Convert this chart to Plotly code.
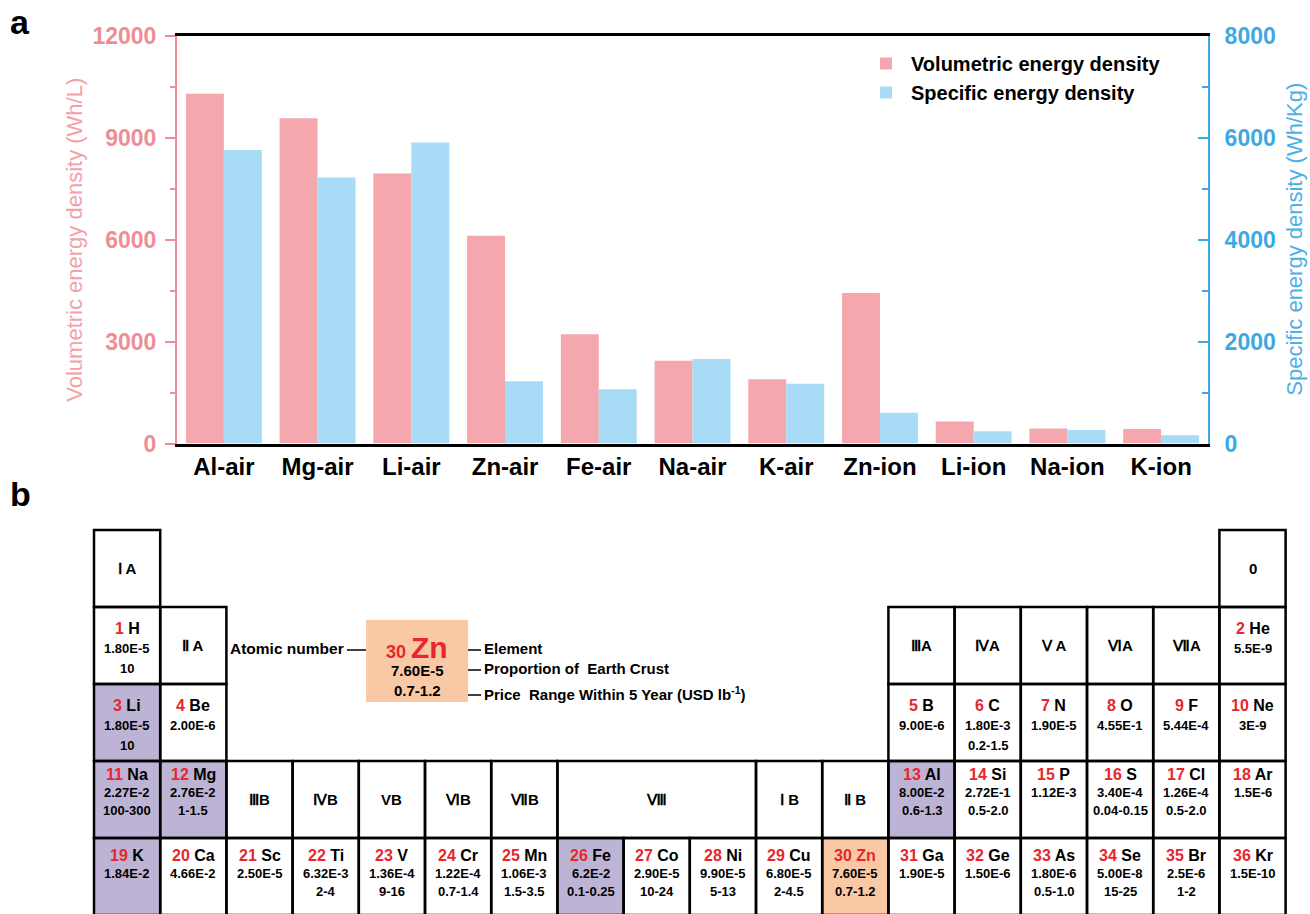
import plotly.graph_objects as go

W, H = 1310, 914

# ---------------- data: panel a ----------------
categories = ["Al-air", "Mg-air", "Li-air", "Zn-air", "Fe-air", "Na-air",
              "K-air", "Zn-ion", "Li-ion", "Na-ion", "K-ion"]
volumetric = [10300, 9580, 7950, 6120, 3220, 2440, 1890, 4430, 650, 440, 430]
specific = [5760, 5220, 5910, 1220, 1065, 1660, 1175, 605, 240, 265, 160]
vol_ticks = [0, 3000, 6000, 9000, 12000]
spec_ticks = [0, 2000, 4000, 6000, 8000]

# ---------------- data: panel b (periodic table) ----------------
el_number = [1, 2, 3, 4, 5, 6, 7, 8, 9, 10,
             11, 12, 13, 14, 15, 16, 17, 18,
             19, 20, 21, 22, 23, 24, 25, 26, 27, 28, 29, 30, 31, 32, 33, 34, 35, 36]
el_symbol = ["H", "He", "Li", "Be", "B", "C", "N", "O", "F", "Ne",
             "Na", "Mg", "Al", "Si", "P", "S", "Cl", "Ar",
             "K", "Ca", "Sc", "Ti", "V", "Cr", "Mn", "Fe", "Co", "Ni", "Cu", "Zn",
             "Ga", "Ge", "As", "Se", "Br", "Kr"]
el_abundance = ["1.80E-5", "5.5E-9", "1.80E-5", "2.00E-6", "9.00E-6", "1.80E-3", "1.90E-5",
                "4.55E-1", "5.44E-4", "3E-9",
                "2.27E-2", "2.76E-2", "8.00E-2", "2.72E-1", "1.12E-3", "3.40E-4", "1.26E-4", "1.5E-6",
                "1.84E-2", "4.66E-2", "2.50E-5", "6.32E-3", "1.36E-4", "1.22E-4", "1.06E-3",
                "6.2E-2", "2.90E-5", "9.90E-5", "6.80E-5", "7.60E-5", "1.90E-5", "1.50E-6",
                "1.80E-6", "5.00E-8", "2.5E-6", "1.5E-10"]
el_price = ["10", "", "10", "", "", "0.2-1.5", "", "", "", "",
            "100-300", "1-1.5", "0.6-1.3", "0.5-2.0", "", "0.04-0.15", "0.5-2.0", "",
            "", "", "", "2-4", "9-16", "0.7-1.4", "1.5-3.5", "0.1-0.25", "10-24", "5-13",
            "2-4.5", "0.7-1.2", "", "", "0.5-1.0", "15-25", "1-2", ""]
el_col = [0, 17, 0, 1, 12, 13, 14, 15, 16, 17,
          0, 1, 12, 13, 14, 15, 16, 17,
          0, 1, 2, 3, 4, 5, 6, 7, 8, 9, 10, 11, 12, 13, 14, 15, 16, 17]
el_row = [1, 1, 2, 2, 2, 2, 2, 2, 2, 2,
          3, 3, 3, 3, 3, 3, 3, 3,
          4, 4, 4, 4, 4, 4, 4, 4, 4, 4, 4, 4, 4, 4, 4, 4, 4, 4]
metal_anodes = ["Li", "Na", "Mg", "Al", "K", "Fe"]
featured = "Zn"

group_label = ["\u2160 A", "0", "\u2161 A", "\u2162A", "\u2163A", "\u2164 A", "\u2165A", "\u2166A",
               "\u2162B", "\u2163B", "VB", "\u2165B", "\u2166B", "\u2167", "\u2160 B", "\u2161 B"]
group_row = [0, 0, 1, 1, 1, 1, 1, 1, 3, 3, 3, 3, 3, 3, 3, 3]
group_col = [0, 17, 1, 12, 13, 14, 15, 16, 2, 3, 4, 5, 6, 7, 10, 11]
group_span = [1, 1, 1, 1, 1, 1, 1, 1, 1, 1, 1, 1, 1, 3, 1, 1]

# ---------------- style ----------------
FONT = "Liberation Sans, Arial, sans-serif"
PINK = "#f4a7ac"
PINK_AX = "#f08c93"
PINK_TITLE = "#f4a0a6"
BLUE = "#a8dcf6"
BLUE_AX = "#3ea8e2"
BLUE_TITLE = "#4cafe6"
RED = "#e8262b"
PURPLE = "#bdb3d5"
PEACH = "#f9c9a5"


def px(x):
    return x / W


def py(y):
    return 1 - y / H


fig = go.Figure()
fig.add_trace(go.Bar(x=categories, y=volumetric, name="Volumetric energy density",
                     marker=dict(color=PINK, line=dict(width=0)),
                     width=0.405, offset=-0.405, yaxis="y"))
fig.add_trace(go.Bar(x=categories, y=specific, name="Specific energy density",
                     marker=dict(color=BLUE, line=dict(width=0)),
                     width=0.405, offset=0.0, yaxis="y2"))

plot_x0, plot_x1 = 177, 1208
plot_top, plot_bot = 36, 443.5

fig.update_layout(
    width=W, height=H,
    margin=dict(l=0, r=0, t=0, b=0),
    paper_bgcolor="white", plot_bgcolor="white",
    font=dict(family=FONT, size=14),
    showlegend=True,
    legend=dict(x=px(861), y=py(44), xanchor="left", yanchor="top",
                font=dict(size=20, color="black", family=FONT, weight="bold"),
                bgcolor="rgba(0,0,0,0)", itemwidth=40, tracegroupgap=2),
    xaxis=dict(domain=[px(plot_x0), px(plot_x1)], range=[-0.5, 10.5],
               showline=True, linecolor="black", linewidth=3, mirror=True,
               ticks="", showgrid=False, zeroline=False, automargin=False,
               tickfont=dict(size=24, color="black", family=FONT, weight="bold")),
    yaxis=dict(domain=[py(plot_bot), py(plot_top)], range=[0, 12000],
               tickvals=vol_ticks, tickformat="d", showline=True, linecolor=PINK_AX, linewidth=2,
               ticks="outside", ticklen=10, tickwidth=2, tickcolor=PINK_AX,
               minor=dict(ticks="outside", ticklen=5, tickwidth=2, tickcolor=PINK_AX,
                          dtick=1500, showgrid=False),
               showgrid=False, zeroline=False, automargin=False, ticklabelstandoff=4,
               tickfont=dict(size=23, color=PINK_AX, family=FONT, weight="bold")),
    yaxis2=dict(overlaying="y", side="right", anchor="x", range=[0, 8000],
                tickvals=spec_ticks, tickformat="d", showline=True, linecolor=BLUE_AX, linewidth=2,
                ticks="inside", ticklen=10, tickwidth=2, tickcolor=BLUE_AX,
                minor=dict(ticks="inside", ticklen=6, tickwidth=2, tickcolor=BLUE_AX,
                           dtick=1000, showgrid=False),
                showgrid=False, zeroline=False, automargin=False, ticklabelstandoff=10,
                tickfont=dict(size=23, color=BLUE_AX, family=FONT, weight="bold")),
)

annotations = []
shapes = []


def ann(x, y, text, size, color="black", xanchor="center", bold=True, angle=0):
    annotations.append(dict(
        x=px(x), y=py(y), xref="paper", yref="paper", text=text, showarrow=False,
        xanchor=xanchor, yanchor="middle", textangle=angle,
        font=dict(size=size, color=color, family=FONT, weight="bold" if bold else "normal")))


# panel labels and axis titles
ann(20, 22, "a", 34)
ann(20, 494, "b", 34)
ann(75, (plot_top + plot_bot) / 2, "Volumetric energy density (Wh/L)", 22, PINK_TITLE, bold=False, angle=-90)
ann(1295, (plot_top + plot_bot) / 2, "Specific energy density (Wh/Kg)", 22, BLUE_TITLE, bold=False, angle=-90)

# ---------------- periodic table ----------------
TX0, CW = 94, 66.2
TY0, RH = 530, 77


def cell_box(row, col, span=1):
    x0 = TX0 + col * CW
    y0 = TY0 + row * RH
    return x0, y0, x0 + span * CW, y0 + RH


cells = []
for i in range(len(el_number)):
    fill = None
    if el_symbol[i] in metal_anodes:
        fill = PURPLE
    elif el_symbol[i] == featured:
        fill = PEACH
    cells.append((el_row[i], el_col[i], 1, fill))
for i in range(len(group_label)):
    cells.append((group_row[i], group_col[i], group_span[i], None))

# fills first
for (r, c, s, fill) in cells:
    if fill:
        x0, y0, x1, y1 = cell_box(r, c, s)
        shapes.append(dict(type="rect", xref="paper", yref="paper",
                           x0=px(x0), x1=px(x1), y0=py(y1), y1=py(y0),
                           fillcolor=fill, line=dict(width=0), layer="below"))
# borders
for (r, c, s, fill) in cells:
    x0, y0, x1, y1 = cell_box(r, c, s)
    shapes.append(dict(type="rect", xref="paper", yref="paper",
                       x0=px(x0), x1=px(x1), y0=py(y1), y1=py(y0),
                       fillcolor="rgba(0,0,0,0)", line=dict(color="black", width=2.5)))

line_offsets = {1: (21, 41, 61), 2: (21, 41, 61), 3: (13, 31, 49), 4: (17, 35, 53)}
for i in range(len(el_number)):
    x0, y0, x1, y1 = cell_box(el_row[i], el_col[i])
    cx = (x0 + x1) / 2
    o1, o2, o3 = line_offsets[el_row[i]]
    if el_symbol[i] == featured:
        head = f"<span style='color:{RED}'>{el_number[i]} {el_symbol[i]}</span>"
    else:
        head = f"<span style='color:{RED}'>{el_number[i]}</span> {el_symbol[i]}"
    ann(cx, y0 + o1, head, 16)
    ann(cx, y0 + o2, el_abundance[i], 13)
    if el_price[i]:
        ann(cx, y0 + o3, el_price[i], 13)

for i in range(len(group_label)):
    x0, y0, x1, y1 = cell_box(group_row[i], group_col[i], group_span[i])
    ann((x0 + x1) / 2, (y0 + y1) / 2, group_label[i], 15)

# key cell
kx0, ky0, kx1, ky1 = 366, 620, 468, 702
shapes.append(dict(type="rect", xref="paper", yref="paper",
                   x0=px(kx0), x1=px(kx1), y0=py(ky1), y1=py(ky0),
                   fillcolor=PEACH, line=dict(width=0), layer="below"))
kc = (kx0 + kx1) / 2
ann(kc, 647, f"<span style='font-size:18px'>30</span> <span style='font-size:30px'>Zn</span>", 18, RED)
ann(kc, 670, "7.60E-5", 15)
ann(kc, 690, "0.7-1.2", 15)
ann(346, 648, "Atomic number", 15.5, xanchor="right")
key_labels = ["Element", "Proportion of \u00a0Earth Crust",
              "Price \u00a0Range Within 5 Year (USD lb<sup>-1</sup>)"]
key_y = [650, 670, 695]
shapes.append(dict(type="line", xref="paper", yref="paper", x0=px(347), x1=px(kx0),
                   y0=py(650), y1=py(650), line=dict(color="black", width=1.5)))
for lab, yy in zip(key_labels, key_y):
    shapes.append(dict(type="line", xref="paper", yref="paper", x0=px(kx1), x1=px(481),
                       y0=py(yy), y1=py(yy), line=dict(color="black", width=1.5)))
    ann(482, yy - 2, lab, 15, xanchor="left")

fig.update_layout(annotations=annotations, shapes=shapes)
fig.write_html("out.html", config={"displayModeBar": False},
               post_script="document.body.style.margin='0px';document.body.style.overflow='hidden';")
